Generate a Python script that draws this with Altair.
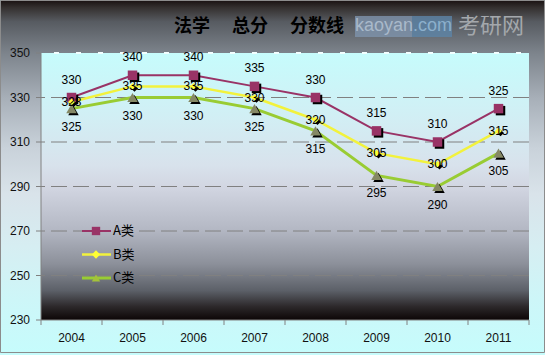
import altair as alt
import pandas as pd

years = ["2004", "2005", "2006", "2007", "2008", "2009", "2010", "2011"]
a_vals = [330, 340, 340, 335, 330, 315, 310, 325]
b_vals = [328, 335, 335, 330, 320, 305, 300, 315]
c_vals = [325, 330, 330, 325, 315, 295, 290, 305]
series_names = ["A类", "B类", "C类"]
y_ticks = [230, 250, 270, 290, 310, 330, 350]
grid_ticks = [250, 270, 290, 310, 330]
top_tick = [350]
title_text = "法学\u3000 总分\u3000 分数线"

rows = []
for name, vals in zip(series_names, [a_vals, b_vals, c_vals]):
    for yr, v in zip(years, vals):
        rows.append({"year": yr, "series": name, "value": v})
df = pd.DataFrame(rows)
df_years = pd.DataFrame({"year": years})
df_yt = pd.DataFrame({"v": y_ticks})
df_grid = pd.DataFrame({"v": grid_ticks})
df_top = pd.DataFrame({"v": top_tick})
df_series = pd.DataFrame({"series": series_names})

W, H = 488, 267
PL, PT, PR, PB = 41, 53, 16, 35
NUM_FONT = "Liberation Sans"
CJK_FONT = "Noto Sans CJK SC"
AXIS_GRAY = "#808080"

line_colors = ["#993366", "#f2f23c", "#99cc33"]
line_widths = [2, 3, 2]
marker_shapes = ["square", "diamond", "triangle-up"]
marker_colors = ["#993366", "#ffff33", "#858865"]
marker_sizes = [90, 45, 110]
label_dy = [-18, 0, 18]
legend_shapes = ["square", "diamond", "triangle-up"]
legend_colors = ["#993366", "#ffff33", "#a4c23a"]

xscale = alt.Scale(type="band", domain=years, paddingInner=0, paddingOuter=0)
yscale = alt.Scale(domain=[230, 350], nice=False, zero=False)
color_scale = alt.Scale(domain=series_names, range=line_colors)
X = lambda **kw: alt.X("year:N", scale=xscale, axis=None, **kw)
Y = lambda f="value:Q": alt.Y(f, scale=yscale, axis=None)

one = alt.Data(values=[{"k": 1}])

outer_grad = alt.Gradient(
    gradient="linear", x1=0, x2=0, y1=0, y2=1,
    stops=[
        alt.GradientStop(color="#1a1212", offset=0),
        alt.GradientStop(color="#34302f", offset=0.02),
        alt.GradientStop(color="#575b61", offset=0.06),
        alt.GradientStop(color="#7d848c", offset=0.15),
        alt.GradientStop(color="#a8b0b9", offset=0.28),
        alt.GradientStop(color="#c9d2da", offset=0.42),
        alt.GradientStop(color="#d9e3ea", offset=0.55),
        alt.GradientStop(color="#d6eef2", offset=0.70),
        alt.GradientStop(color="#cdf6f8", offset=0.85),
        alt.GradientStop(color="#c6fcfc", offset=1),
    ],
)
plot_grad = alt.Gradient(
    gradient="linear", x1=0, x2=0, y1=0, y2=1,
    stops=[
        alt.GradientStop(color="#c6fcfc", offset=0),
        alt.GradientStop(color="#d2eef4", offset=0.25),
        alt.GradientStop(color="#d8e2ec", offset=0.42),
        alt.GradientStop(color="#d2d6e2", offset=0.50),
        alt.GradientStop(color="#b4b8c4", offset=0.66),
        alt.GradientStop(color="#8c909a", offset=0.79),
        alt.GradientStop(color="#5c6068", offset=0.89),
        alt.GradientStop(color="#2c282a", offset=0.95),
        alt.GradientStop(color="#0c0606", offset=1),
    ],
)

outer = alt.Chart(one).mark_rect(fill=outer_grad, stroke="#8c8c8c", strokeWidth=1).encode(
    x=alt.value(-PL + 0.5), x2=alt.value(W + PR - 0.5),
    y=alt.value(-PT + 0.5), y2=alt.value(H + PB - 2.5),
)
plot_bg = alt.Chart(one).mark_rect(fill=plot_grad).encode(
    x=alt.value(0), x2=alt.value(W), y=alt.value(0), y2=alt.value(H),
)

title_mark = alt.Chart(one).mark_text(
    text=title_text, font=CJK_FONT, fontSize=18, fontWeight="bold", color="#000000",
    align="center", baseline="middle"
).encode(x=alt.value(259 - PL), y=alt.value(27 - PT))

# watermark
wm_box1 = alt.Chart(one).mark_rect(fill="#7e94ad", opacity=0.8).encode(
    x=alt.value(355 - PL), x2=alt.value(412 - PL), y=alt.value(16 - PT), y2=alt.value(37 - PT))
wm_box2 = alt.Chart(one).mark_rect(fill="#5c84a8", opacity=0.8).encode(
    x=alt.value(412 - PL), x2=alt.value(452 - PL), y=alt.value(16 - PT), y2=alt.value(37 - PT))
wm_t1 = alt.Chart(one).mark_text(
    text="kaoyan", font=NUM_FONT, fontSize=18, color="#a9b9ca", align="left", baseline="middle"
).encode(x=alt.value(355 - PL), y=alt.value(26 - PT))
wm_t2 = alt.Chart(one).mark_text(
    text=".com", font=NUM_FONT, fontSize=18, color="#8cb0cc", align="left", baseline="middle"
).encode(x=alt.value(413 - PL), y=alt.value(26 - PT))
wm_t3 = alt.Chart(one).mark_text(
    text="考研网", font=CJK_FONT, fontSize=22, color="#a4a8ac", align="left", baseline="middle"
).encode(x=alt.value(458 - PL), y=alt.value(26 - PT))

grid = alt.Chart(df_grid).mark_rule(color=AXIS_GRAY, strokeDash=[16, 6], strokeWidth=1).encode(
    y=Y("v:Q"))
grid_top = alt.Chart(df_top).mark_rule(color="#f2ffff", strokeDash=[5, 17], strokeDashOffset=-8,
                                       strokeWidth=2).encode(y=Y("v:Q"))

# axes drawn as marks
y_dom = alt.Chart(one).mark_rule(color=AXIS_GRAY, strokeWidth=1).encode(
    x=alt.value(0), y=alt.value(0), y2=alt.value(H))
x_dom = alt.Chart(one).mark_rule(color=AXIS_GRAY, strokeWidth=1).encode(
    x=alt.value(0), x2=alt.value(W), y=alt.value(H))
y_tick = alt.Chart(df_yt).mark_rule(color=AXIS_GRAY, strokeWidth=1).encode(
    x=alt.value(-5), x2=alt.value(0), y=Y("v:Q"))
y_lab = alt.Chart(df_yt).mark_text(font=NUM_FONT, fontSize=12, color="#111111",
                                   align="right", baseline="middle").encode(
    x=alt.value(-11), y=Y("v:Q"), text=alt.Text("v:Q"))
x_tick = alt.Chart(df_years).mark_rule(color=AXIS_GRAY, strokeWidth=1).encode(
    x=X(bandPosition=0), y=alt.value(H), y2=alt.value(H + 5))
x_tick_end = alt.Chart(one).mark_rule(color=AXIS_GRAY, strokeWidth=1).encode(
    x=alt.value(W), y=alt.value(H), y2=alt.value(H + 5))
x_lab = alt.Chart(df_years).mark_text(font=NUM_FONT, fontSize=12, color="#111111",
                                      baseline="middle").encode(
    x=X(), y=alt.value(H + 18), text=alt.Text("year:N"))

lines = alt.Chart(df).mark_line().encode(
    x=X(), y=Y(),
    color=alt.Color("series:N", scale=color_scale, legend=None),
    strokeWidth=alt.StrokeWidth("series:N", scale=alt.Scale(domain=series_names, range=line_widths), legend=None),
)

layers = [outer, plot_bg, title_mark, wm_box1, wm_box2, wm_t1, wm_t2, wm_t3,
          grid, grid_top, y_dom, x_dom, y_tick, y_lab, x_tick, x_tick_end, x_lab, lines]

for name, shp, col, sz in zip(series_names, marker_shapes, marker_colors, marker_sizes):
    base = alt.Chart(df).transform_filter(alt.datum.series == name)
    shadow = base.mark_point(shape=shp, filled=True, color="#000000", size=sz, opacity=1,
                             xOffset=2, yOffset=2).encode(x=X(), y=Y())
    pts = base.mark_point(shape=shp, filled=True, color=col, size=sz, opacity=1).encode(x=X(), y=Y())
    layers += [shadow, pts]

for name, dy in zip(series_names, label_dy):
    base = alt.Chart(df).transform_filter(alt.datum.series == name)
    txt = base.mark_text(font=NUM_FONT, fontSize=12, color="#000000", dy=dy, baseline="middle").encode(
        x=X(), y=Y(), text=alt.Text("value:Q"))
    layers.append(txt)

# legend drawn as marks
leg_y = alt.Y("series:N", scale=alt.Scale(type="point", domain=series_names, range=[178, 225], padding=0),
              axis=None)
leg_line = alt.Chart(df_series).mark_rule().encode(
    x=alt.value(82 - PL), x2=alt.value(111 - PL), y=leg_y,
    color=alt.Color("series:N", scale=color_scale, legend=None),
    strokeWidth=alt.StrokeWidth("series:N", scale=alt.Scale(domain=series_names, range=line_widths), legend=None),
)
leg_sym = alt.Chart(df_series).mark_point(filled=True, opacity=1, size=70).encode(
    x=alt.value(96 - PL), y=leg_y,
    fill=alt.Fill("series:N", scale=alt.Scale(domain=series_names, range=legend_colors), legend=None),
    shape=alt.Shape("series:N", scale=alt.Scale(domain=series_names, range=legend_shapes), legend=None),
)
leg_txt = alt.Chart(df_series).mark_text(font=CJK_FONT, fontSize=13, color="#000000",
                                         align="left", baseline="middle").encode(
    x=alt.value(113 - PL), y=leg_y, text=alt.Text("series:N"))
layers += [leg_line, leg_sym, leg_txt]

chart = alt.layer(*layers).resolve_scale(y="independent").properties(
    width=W, height=H,
    padding={"left": PL, "top": PT, "right": PR, "bottom": PB},
    autosize=alt.AutoSizeParams(type="none"),
).configure_view(stroke=None, fill=None).configure(background="#c6fcfc")

chart.save("out.html", embed_options={"renderer": "svg", "actions": False})
